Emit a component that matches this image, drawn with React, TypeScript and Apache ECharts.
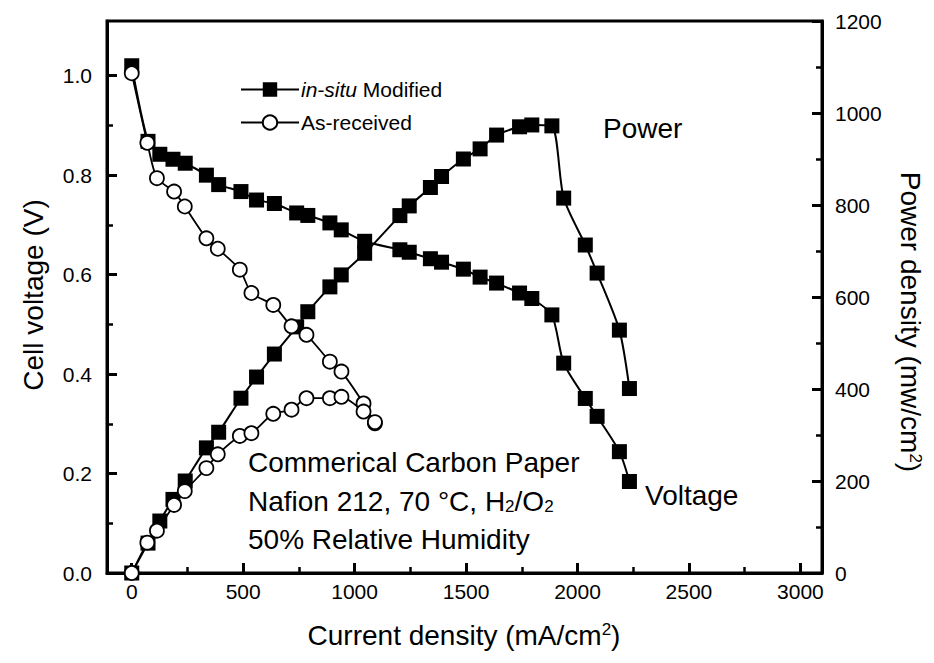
import React, { useEffect, useRef } from 'react';
import * as echarts from 'echarts';

// in-situ Modified (squares)
const modCurrent = [0, 73, 126, 185, 240, 335, 390, 490, 560, 640, 740, 790, 889, 940, 1045, 1203, 1245, 1340, 1390, 1488, 1563, 1637, 1740, 1795, 1885, 1938, 2035, 2088, 2188, 2233];
const modVoltage = [1.02, 0.868, 0.842, 0.832, 0.824, 0.8, 0.781, 0.767, 0.75, 0.743, 0.724, 0.719, 0.704, 0.69, 0.667, 0.65, 0.645, 0.632, 0.625, 0.611, 0.595, 0.583, 0.563, 0.552, 0.519, 0.422, 0.351, 0.315, 0.244, 0.184];
const modPower = [0, 65, 113, 160, 200, 272, 306, 380, 426, 476, 535, 568, 622, 648, 695, 777, 798, 838, 862, 900, 922, 952, 970, 974, 972, 815, 713, 652, 528, 401];

// As-received (open circles)
const arCurrent = [0, 70, 113, 190, 238, 335, 386, 485, 537, 635, 717, 784, 889, 941, 1040, 1091];
const arVoltage = [1.005, 0.865, 0.794, 0.767, 0.737, 0.673, 0.652, 0.61, 0.563, 0.539, 0.496, 0.479, 0.425, 0.405, 0.341, 0.301];
const arPower = [0, 66, 92, 148, 178, 228, 258, 298, 304, 346, 355, 380, 380, 383, 351, 328];

const xTicks = [0, 500, 1000, 1500, 2000, 2500, 3000];
const xMinorTicks = [250, 750, 1250, 1750, 2250, 2750];
const vTicks = [0, 0.2, 0.4, 0.6, 0.8, 1.0];
const vMinorTicks = [0.1, 0.3, 0.5, 0.7, 0.9];
const pTicks = [0, 200, 400, 600, 800, 1000, 1200];
const pMinorTicks = [100, 300, 500, 700, 900, 1100];

const FONT = '"Liberation Sans", Arial, Helvetica, sans-serif';
const X_MIN = -111;
const X_MAX = 3097;
const V_MAX = 1.11;
const P_MAX = 1200;

const pairs = (xs: number[], ys: number[]) => xs.map((x, i) => [x, ys[i]]);

function App() {
  const ref = useRef<HTMLDivElement>(null);
  useEffect(() => {
    document.body.style.margin = '0';
    const chart = echarts.init(ref.current!, null, { renderer: 'svg' });
    const lineW = 3;
    const labelStyle = { color: '#000', fontSize: 21, fontFamily: FONT };
    const sqStyle = {
      type: 'line', symbol: 'rect', symbolSize: 15, smooth: 0.25,
      itemStyle: { color: '#000', borderColor: '#000', borderWidth: 0 },
      lineStyle: { color: '#000', width: 2 },
      z: 3,
    };
    const ciStyle = {
      type: 'line', symbol: 'circle', symbolSize: 14, smooth: 0.25,
      itemStyle: { color: '#fff', borderColor: '#000', borderWidth: 1.8 },
      lineStyle: { color: '#000', width: 1.8 },
      z: 4,
    };
    const plain = (v: number) => String(v);
    const option: any = {
      animation: false,
      backgroundColor: '#fff',
      grid: { left: 107, right: 112, top: 21, bottom: 90, show: true, borderColor: '#000', borderWidth: lineW, backgroundColor: 'transparent' },
      legend: {
        left: 235, top: 74, orient: 'vertical', itemWidth: 58, itemHeight: 18, itemGap: 12,
        selectedMode: false,
        data: ['in-situ Modified', 'As-received'],
        textStyle: { color: '#000', fontSize: 21, fontFamily: FONT, padding: [0, 0, 0, -3], rich: { i: { fontStyle: 'italic', fontSize: 21, fontFamily: FONT, color: '#000' } } },
        formatter: (n: string) => (n === 'in-situ Modified' ? '{i|in-situ} Modified' : n),
      },
      xAxis: [
        {
          type: 'value', min: X_MIN, max: X_MAX, position: 'bottom',
          axisLine: { show: true, onZero: false, lineStyle: { color: '#000', width: lineW } },
          axisTick: { show: true, inside: true, length: 10, customValues: xTicks, lineStyle: { color: '#000', width: lineW } },
          axisLabel: { show: true, customValues: xTicks, margin: 8, formatter: plain, ...labelStyle },
          splitLine: { show: false },
        },
        {
          type: 'value', min: X_MIN, max: X_MAX, position: 'bottom',
          axisLine: { show: false, onZero: false },
          axisTick: { show: true, inside: true, length: 6, customValues: xMinorTicks, lineStyle: { color: '#000', width: 2.5 } },
          axisLabel: { show: false },
          splitLine: { show: false },
        },
      ],
      yAxis: [
        {
          type: 'value', min: 0, max: V_MAX, position: 'left',
          axisLine: { show: true, onZero: false, lineStyle: { color: '#000', width: lineW } },
          axisTick: { show: true, inside: true, length: 10, customValues: vTicks, lineStyle: { color: '#000', width: lineW } },
          axisLabel: { show: true, customValues: vTicks, margin: 15, formatter: (v: number) => v.toFixed(1), ...labelStyle },
          splitLine: { show: false },
        },
        {
          type: 'value', min: 0, max: P_MAX, position: 'right',
          axisLine: { show: true, onZero: false, lineStyle: { color: '#000', width: lineW } },
          axisTick: { show: true, inside: true, length: 10, customValues: pTicks, lineStyle: { color: '#000', width: lineW } },
          axisLabel: { show: true, customValues: pTicks, margin: 13, formatter: plain, ...labelStyle },
          splitLine: { show: false },
        },
        {
          type: 'value', min: 0, max: V_MAX, position: 'left',
          axisLine: { show: false, onZero: false },
          axisTick: { show: true, inside: true, length: 6, customValues: vMinorTicks, lineStyle: { color: '#000', width: 2.5 } },
          axisLabel: { show: false },
          splitLine: { show: false },
        },
        {
          type: 'value', min: 0, max: P_MAX, position: 'right',
          axisLine: { show: false, onZero: false },
          axisTick: { show: true, inside: true, length: 6, customValues: pMinorTicks, lineStyle: { color: '#000', width: 2.5 } },
          axisLabel: { show: false },
          splitLine: { show: false },
        },
      ],
      series: [
        { ...sqStyle, name: 'in-situ Modified', xAxisIndex: 0, yAxisIndex: 0, data: pairs(modCurrent, modVoltage) },
        { ...sqStyle, name: 'in-situ Modified', xAxisIndex: 0, yAxisIndex: 1, data: pairs(modCurrent, modPower) },
        { ...ciStyle, name: 'As-received', xAxisIndex: 0, yAxisIndex: 0, data: pairs(arCurrent, arVoltage) },
        { ...ciStyle, name: 'As-received', xAxisIndex: 0, yAxisIndex: 1, data: pairs(arCurrent, arPower) },
      ],
      graphic: [
        {
          type: 'text', x: 464, y: 635,
          style: {
            text: 'Current density (mA/cm{sup|2})', fill: '#000', fontSize: 28, fontFamily: FONT,
            align: 'center', verticalAlign: 'middle', textAlign: 'center', textVerticalAlign: 'middle',
            rich: { sup: { fontSize: 17, fontFamily: FONT, fill: '#000', verticalAlign: 'top', padding: [0, 0, 10, 0] } },
          },
        },
        {
          type: 'text', x: 33, y: 295, rotation: Math.PI / 2,
          style: {
            text: 'Cell voltage (V)', fill: '#000', fontSize: 28, fontFamily: FONT,
            align: 'center', verticalAlign: 'middle', textAlign: 'center', textVerticalAlign: 'middle',
          },
        },
        {
          type: 'text', x: 910, y: 322, rotation: -Math.PI / 2,
          style: {
            text: 'Power density (mw/cm{sup|2})', fill: '#000', fontSize: 28, fontFamily: FONT,
            align: 'center', verticalAlign: 'middle', textAlign: 'center', textVerticalAlign: 'middle',
            rich: { sup: { fontSize: 17, fontFamily: FONT, fill: '#000', verticalAlign: 'top', padding: [0, 0, 10, 0] } },
          },
        },
        {
          type: 'text', x: 603, y: 128,
          style: { text: 'Power', fill: '#000', fontSize: 28, fontFamily: FONT, align: 'left', verticalAlign: 'middle', textAlign: 'left', textVerticalAlign: 'middle' },
        },
        {
          type: 'text', x: 645, y: 495,
          style: { text: 'Voltage', fill: '#000', fontSize: 28, fontFamily: FONT, align: 'left', verticalAlign: 'middle', textAlign: 'left', textVerticalAlign: 'middle' },
        },
        {
          type: 'text', x: 248, y: 462,
          style: { text: 'Commerical Carbon Paper', fill: '#000', fontSize: 28, fontFamily: FONT, align: 'left', verticalAlign: 'middle', textAlign: 'left', textVerticalAlign: 'middle' },
        },
        {
          type: 'text', x: 248, y: 501,
          style: {
            text: 'Nafion 212, 70 °C, H{sub|2}/O{sub|2}', fill: '#000', fontSize: 28, fontFamily: FONT,
            align: 'left', verticalAlign: 'middle', textAlign: 'left', textVerticalAlign: 'middle',
            rich: { sub: { fontSize: 17, fontFamily: FONT, fill: '#000', verticalAlign: 'bottom', padding: [10, 0, 0, 0] } },
          },
        },
        {
          type: 'text', x: 248, y: 539,
          style: { text: '50% Relative Humidity', fill: '#000', fontSize: 28, fontFamily: FONT, align: 'left', verticalAlign: 'middle', textAlign: 'left', textVerticalAlign: 'middle' },
        },
      ],
    };
    chart.setOption(option);
    return () => chart.dispose();
  }, []);
  return <div ref={ref} style={{ width: 934, height: 663, background: '#fff' }} />;
}

export default App;
